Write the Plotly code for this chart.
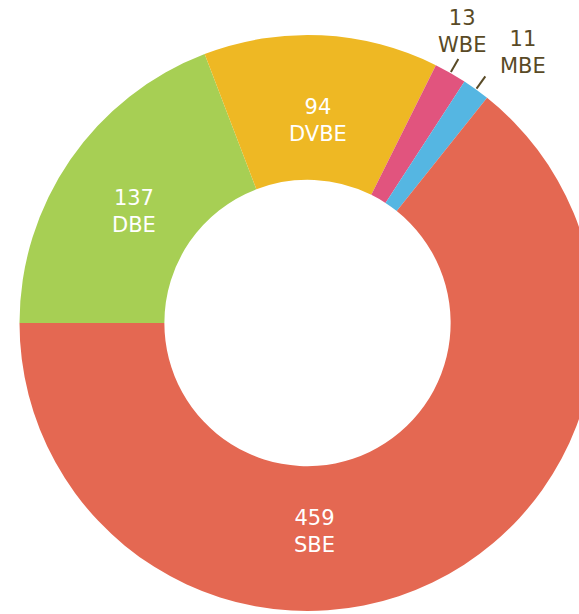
import math
import plotly.graph_objects as go

labels = ["DBE", "DVBE", "WBE", "MBE", "SBE"]
values = [137, 94, 13, 11, 459]
colors = ["#A7CF54", "#EEB824", "#E1547E", "#55B6E2", "#E46852"]
label_inside = [True, True, False, False, True]
# label angle override (degrees clockwise from 12 o'clock); None = slice middle
label_angle = [None, None, None, None, 178.0]
label_radius = [None, None, None, None, 201.0]

W, H = 615, 614
CX, CY, R = 307.5, 323.0, 288.0
HOLE = 0.497
START = 270.0  # degrees clockwise from 12 o'clock
FONT = "DejaVu Sans"
OUT_COLOR = "#594A26"
FS = 21

fig = go.Figure(go.Pie(
    labels=labels,
    values=values,
    textinfo="none",
    marker=dict(colors=colors, line=dict(width=0)),
    hole=HOLE,
    sort=False,
    direction="clockwise",
    rotation=START,
    hoverinfo="none",
    showlegend=False,
    domain=dict(x=[0, 1], y=[(H - (CY + R)) / H, (H - (CY - R)) / H]),
))


def px_to_paper(x, y):
    return x / W, 1 - y / H


total = sum(values)
shapes = []
annotations = []
acc = 0
r_in_default = R * (1 + HOLE) / 2 - 5
for v, l, ins, ang, rad in zip(values, labels, label_inside, label_angle, label_radius):
    a0 = START + acc / total * 360
    acc += v
    mid_deg = a0 + v / total * 360 / 2
    if ang is not None:
        mid_deg = ang
    mid = math.radians(mid_deg)
    if ins:
        r_in = rad if rad is not None else r_in_default
        x = CX + r_in * math.sin(mid)
        y = CY - r_in * math.cos(mid) + 8
        px, py = px_to_paper(x, y)
        annotations.append(dict(xref="paper", yref="paper", x=px, y=py,
                                text=f"{v}<br>{l}", showarrow=False,
                                xanchor="center", yanchor="middle",
                                font=dict(family=FONT, size=FS, color="white")))
        continue
    x1 = CX + (R + 1) * math.sin(mid)
    y1 = CY - (R + 1) * math.cos(mid)
    x2 = CX + (R + 16) * math.sin(mid)
    y2 = CY - (R + 16) * math.cos(mid)
    p1 = px_to_paper(x1, y1)
    p2 = px_to_paper(x2, y2)
    shapes.append(dict(type="line", xref="paper", yref="paper",
                       x0=p1[0], y0=p1[1], x1=p2[0], y1=p2[1],
                       line=dict(color=OUT_COLOR, width=2)))
    if l == "WBE":
        ax, ay, xa = x2 + 4, y2, "center"
    else:
        ax, ay, xa = x2 + 13, y2 + 4, "left"
    px, py = px_to_paper(ax, ay)
    annotations.append(dict(xref="paper", yref="paper", x=px, y=py,
                            text=f"{v}<br>{l}", showarrow=False,
                            xanchor=xa, yanchor="bottom",
                            font=dict(family=FONT, size=FS, color=OUT_COLOR)))

fig.update_layout(
    width=W, height=H,
    margin=dict(l=0, r=0, t=0, b=0),
    paper_bgcolor="white",
    plot_bgcolor="white",
    shapes=shapes,
    annotations=annotations,
)

fig.write_html("out.html", config={"displayModeBar": False},
               post_script="document.body.style.margin='0';document.body.style.overflow='hidden';")
